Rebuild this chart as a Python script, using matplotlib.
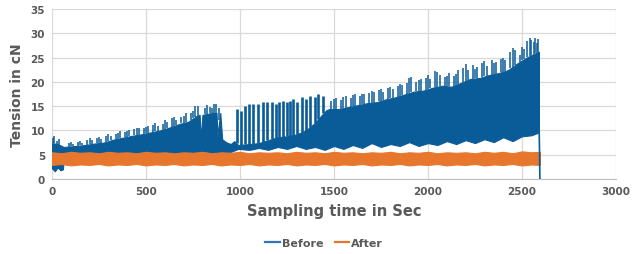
import numpy as np
from matplotlib import pyplot as plt
from matplotlib.lines import Line2D

# Before: solid body of the dense signal (top and bottom edges)
body_t = [0, 30, 62, 125, 175, 225, 275, 325, 375, 425, 475, 525, 575, 625, 675, 725, 770,
          785, 792, 800, 850, 875, 880, 895, 905, 925, 950, 970,
          990, 1050, 1100, 1150, 1200, 1250, 1300, 1350, 1400, 1440, 1460,
          1475, 1525, 1575, 1625, 1675, 1725, 1775, 1825, 1875, 1925, 1975, 2025, 2075, 2125,
          2175, 2225, 2275, 2325, 2375, 2425, 2475, 2525, 2555, 2590]
body_top = [7.4, 7.2, 6.6, 6.8, 7.0, 7.3, 7.5, 8.1, 8.5, 8.9, 9.2, 9.6, 10.0, 10.6, 11.3, 11.8, 13.0,
            13.2, 8.4, 13.2, 13.6, 13.6, 9.0, 13.6, 8.2, 7.6, 7.2, 7.8,
            7.0, 7.2, 7.4, 8.0, 8.6, 8.8, 9.2, 10.0, 11.6, 13.4, 14.2,
            14.4, 14.4, 14.8, 15.2, 15.6, 15.8, 16.4, 16.8, 17.4, 18.0, 18.2, 18.8, 19.2, 19.0,
            19.8, 20.6, 20.8, 21.4, 21.8, 22.4, 23.8, 25.0, 25.6, 26.2]

body_low_t = [0, 15, 30, 45, 58, 64, 100, 300, 500, 700, 900, 915, 940, 965, 990, 1050, 1100,
              1150, 1200, 1250, 1300, 1350, 1400, 1450, 1500, 1550, 1600, 1650, 1700, 1750, 1800,
              1850, 1900, 1950, 2000, 2050, 2100, 2150, 2200, 2250, 2300, 2350, 2400, 2450, 2500,
              2550, 2590]
body_low = [2.2, 1.6, 2.4, 1.8, 2.0, 5.0, 5.0, 5.0, 5.0, 5.0, 5.2, 5.6, 5.4, 5.8, 6.2, 6.0, 6.4,
            6.0, 6.6, 6.2, 6.8, 6.2, 6.6, 6.0, 6.8, 6.2, 7.0, 6.4, 7.4, 6.6, 7.2, 6.8, 7.6, 6.8,
            7.4, 7.0, 7.8, 7.2, 8.0, 7.4, 8.2, 7.6, 8.6, 7.8, 8.8, 9.0, 9.6]

# Before: short peaks on top of the body, 0 - 900 s
early_peak_t = [5, 12, 25, 38, 88, 100, 112, 138, 150, 162, 188, 200, 212, 238, 250, 262, 288, 300,
                312, 338, 350, 362, 388, 400, 412, 438, 450, 462, 488, 500, 512, 538, 550, 562, 588,
                600, 612, 638, 650, 662, 688, 700, 712, 738, 750, 762, 775, 812, 825, 838, 850, 862,
                870, 890]
early_peak_h = [8.4, 8.8, 7.8, 8.2, 7.4, 7.6, 7.2, 7.6, 7.8, 7.4, 8.0, 8.4, 8.0, 8.4, 8.6, 8.2, 8.8, 9.2,
                8.8, 9.2, 9.4, 9.8, 9.6, 9.8, 10.0, 10.2, 10.4, 10.6, 10.4, 10.8, 11.0, 11.2, 11.6, 11.0,
                11.4, 12.2, 11.8, 12.6, 12.8, 12.2, 12.8, 13.0, 13.6, 13.6, 14.0, 15.0, 15.0, 14.6, 15.2,
                14.8, 14.6, 15.4, 15.4, 14.6]

# Before: separate tall spikes between ~980 and ~1450 s
spike_t = [982, 1005, 1027, 1049, 1071, 1094, 1120, 1145, 1169, 1191, 1209, 1230, 1252, 1268,
           1284, 1305, 1328, 1349, 1372, 1399, 1416, 1443]
spike_h = [14.4, 14.1, 15.1, 15.4, 15.4, 15.4, 15.8, 15.8, 15.8, 15.4, 15.8, 16.1, 15.8, 16.0,
           16.5, 15.8, 16.8, 16.5, 17.1, 16.8, 17.5, 17.1]

# Before: short peaks on top of the body, 1450 - 2590 s
late_peak_t = [1485, 1500, 1512, 1538, 1550, 1563, 1588, 1600, 1612, 1638, 1650, 1662, 1688, 1700,
               1712, 1738, 1750, 1762, 1788, 1800, 1812, 1838, 1850, 1862, 1888, 1900, 1912, 1938,
               1950, 1962, 1988, 2000, 2012, 2038, 2050, 2062, 2088, 2100, 2112, 2138, 2150, 2162,
               2188, 2200, 2212, 2238, 2250, 2262, 2288, 2300, 2312, 2338, 2350, 2362, 2388, 2400,
               2412, 2438, 2450, 2462, 2488, 2500, 2512, 2528, 2540, 2548, 2562, 2570, 2580, 2586]
late_peak_h = [16.0, 16.4, 16.6, 16.2, 16.8, 17.0, 16.6, 17.2, 17.6, 17.0, 17.6, 17.4, 17.8, 18.2,
               18.0, 18.4, 18.6, 18.0, 18.8, 19.0, 18.6, 19.2, 19.6, 19.4, 19.8, 20.8, 21.0, 20.0,
               20.4, 20.6, 20.8, 21.4, 20.6, 22.2, 22.0, 21.4, 21.0, 21.2, 21.8, 21.2, 21.6, 22.4,
               22.8, 23.6, 22.4, 23.4, 22.6, 23.0, 23.8, 24.2, 23.2, 24.4, 23.8, 24.0, 24.6, 25.0,
               24.4, 26.2, 27.0, 26.6, 25.6, 27.2, 26.8, 28.4, 29.0, 28.6, 28.2, 29.0, 28.0, 28.8]

# Before: the final drop to zero at the end of the run
tail_t = [2590, 2593, 2595]
tail_v = [12.0, 6.0, 0.0]

# After: narrow band around 4 cN
after_t = list(range(0, 2600, 50)) + [2595]
after_top = [5.5, 5.3, 5.6, 5.4, 5.5, 5.3, 5.6, 5.4, 5.5, 5.3, 5.6, 5.4, 5.5, 5.3, 5.5, 5.4, 5.6,
             5.3, 5.5, 5.4, 5.6, 5.3, 5.5, 5.4, 5.5, 5.3, 5.6, 5.4, 5.5, 5.3, 5.6, 5.4, 5.5, 5.3,
             5.5, 5.4, 5.6, 5.3, 5.5, 5.4, 5.6, 5.3, 5.5, 5.4, 5.5, 5.3, 5.6, 5.4, 5.6, 5.3, 5.7,
             5.5, 5.6]
after_low = [2.9, 3.1, 2.8, 3.0, 2.9, 3.1, 2.8, 3.0, 2.9, 3.1, 2.8, 3.0, 2.9, 3.1, 2.8, 3.0, 2.9,
             3.1, 2.8, 3.0, 2.9, 3.1, 2.8, 3.0, 2.9, 3.1, 2.8, 3.0, 2.9, 3.1, 2.8, 3.0, 2.9, 3.1,
             2.8, 3.0, 2.9, 3.1, 2.8, 3.0, 2.9, 3.1, 2.8, 3.0, 2.9, 3.1, 2.8, 3.0, 2.9, 3.1, 2.8,
             3.0, 2.9]

blue = "#0a5c99"
orange = "#e8772e"
grey = "#595959"

plt.rcParams["font.family"] = "DejaVu Sans"

fig = plt.figure(figsize=(6.36, 2.55), dpi=100)
ax = fig.add_axes([0.0818, 0.294, 0.8868, 0.667])

# merge the two edge grids so the band can be filled
t_all = np.union1d(body_t, body_low_t)
top_all = np.interp(t_all, body_t, body_top)
low_all = np.interp(t_all, body_low_t, body_low)
ax.fill_between(t_all, low_all, top_all, color=blue, lw=0.8, edgecolor=blue)
ax.vlines(early_peak_t, np.interp(early_peak_t, body_t, body_top), early_peak_h, color=blue, lw=1.1)
ax.vlines(late_peak_t, np.interp(late_peak_t, body_t, body_top), late_peak_h, color=blue, lw=1.1)
ax.vlines(spike_t, np.interp(spike_t, body_t, body_top), spike_h, color=blue, lw=1.9)
ax.plot(tail_t, tail_v, color=blue, lw=1.2)

ax.fill_between(after_t, after_low, after_top, color=orange, lw=0.8, edgecolor=orange)

ax.set_xlim(0, 3000)
ax.set_ylim(0, 35)
ax.set_xticks(range(0, 3001, 500))
ax.set_yticks(range(0, 36, 5))
ax.grid(True, color="#d9d9d9", lw=0.9)
ax.set_axisbelow(True)
for side in ["left", "right", "top"]:
    ax.spines[side].set_visible(False)
ax.spines["bottom"].set_color("#bfbfbf")
ax.tick_params(length=0, labelsize=7.5, labelcolor=grey, pad=5)
for lbl in ax.get_xticklabels() + ax.get_yticklabels():
    lbl.set_fontweight("bold")

ax.set_xlabel("Sampling time in Sec", fontsize=10.5, fontweight="bold", color=grey, labelpad=5)
ax.set_ylabel("Tension in cN", fontsize=10, fontweight="bold", color=grey, labelpad=5)

handles = [Line2D([], [], color="#2f75b5", lw=1.6), Line2D([], [], color=orange, lw=1.6)]
fig.legend(handles, ["Before", "After"], loc="lower center", bbox_to_anchor=(0.51, -0.015),
           ncol=2, frameon=False, prop={"size": 8, "weight": "bold"}, labelcolor=grey,
           handlelength=1.3, handletextpad=0.2, columnspacing=1.0)

fig.savefig("out.png", dpi=100)
